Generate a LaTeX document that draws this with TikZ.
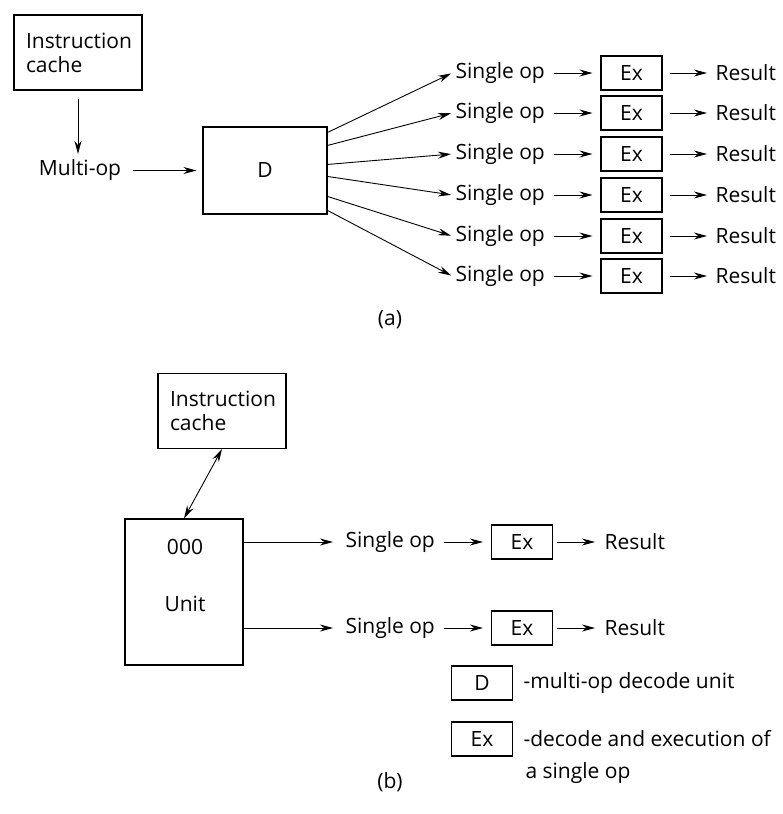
\documentclass[tikz,border=0pt]{standalone}
\usepackage{fontspec}
\setmainfont{Open Sans}
\usetikzlibrary{arrows.meta}

\begin{document}
\begin{tikzpicture}[x=1pt, y=-1pt,
    every node/.style={font=\fontsize{21}{24}\selectfont},
    unitbox/.style={draw, line width=1.1pt, inner sep=0pt},
    exbox/.style={unitbox, minimum width=61pt, minimum height=34pt},
    cachebox/.style={draw, line width=1.1pt, text width=104pt, inner sep=12pt, minimum height=75pt, align=left},
    flow/.style={line width=0.9pt, -{Stealth[length=13pt,width=7pt]}}]
    \useasboundingbox (0,0) rectangle (783,814);

    % (a) multi-op decode
    \node[cachebox] (icache) at (78, 52.5) {Instruction\\cache};
    \node (multi) at (80, 170) {Multi-op};
    \node[unitbox, minimum width=124pt, minimum height=87pt] (D) at (265, 170.5) {D};

    \draw[flow, shorten <=8pt, shorten >=2pt] (icache.south -| 78,0) -- (multi.north -| 78,0);
    \draw[flow, shorten <=8pt, shorten >=6pt] (multi.east |- D) -- (D.west);

    % six single ops
    \foreach \i/\y/\o in {1/73/6, 2/113/19, 3/154/38, 4/195/50, 5/236/70, 6/276/84} {
        \node[anchor=west] (sop\i) at (452, \y) {Single op};
        \node[exbox] (ex\i) at (631.5, \y) {Ex};
        \node[anchor=west] (res\i) at (712, \y) {Result};

        \draw[flow, shorten >=1pt] ([yshift=-\o pt]D.north east) -- (sop\i.west);
        \draw[flow, shorten <=6pt, shorten >=8pt] (sop\i.east) -- (ex\i.west);
        \draw[flow, shorten <=7pt, shorten >=5pt] (ex\i.east) -- (res\i.west);
    }

    \node (capa) at (390, 320) {(a)};

    % (b) 000 unit
    \node[cachebox] (icacheb) at (222, 411) {Instruction\\cache};
    \node[unitbox, minimum width=118pt, minimum height=146pt] (unit) at (184, 592) {};
    \node (ooo) at (185, 547) {000};
    \node (unitlbl) at (185, 604) {Unit};

    \draw[line width=0.9pt, {Stealth[length=13pt,width=7pt]}-{Stealth[length=13pt,width=7pt]}] (icacheb.south) -- (unit.north);

    \foreach \i/\y in {1/542, 2/628} {
        \node[anchor=west] (sopb\i) at (342, \y) {Single op};
        \node[exbox] (exb\i) at (522, \y) {Ex};
        \node[anchor=west] (resb\i) at (601, \y) {Result};

        \draw[flow, shorten >=9pt] (unit.east |- sopb\i) -- (sopb\i.west);
        \draw[flow, shorten <=6pt, shorten >=8pt] (sopb\i.east) -- (exb\i.west);
        \draw[flow, shorten <=4pt, shorten >=6pt] (exb\i.east) -- (resb\i.west);
    }

    % key
    \node[exbox] (keyD) at (482, 683) {D};
    \node[anchor=west] (keyDtxt) at (520, 683) {-multi-op decode unit};
    \node[exbox] (keyEx) at (482, 739) {Ex};
    \node[anchor=west] (keyExtxt) at (520, 739) {-decode and execution of};
    \node[anchor=west] (keyExtxt2) at (522, 773) {a single op};

    \node (capb) at (390, 782) {(b)};
\end{tikzpicture}
\end{document}
